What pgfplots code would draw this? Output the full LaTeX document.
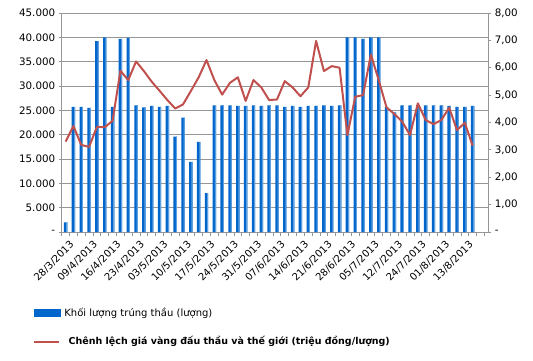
\documentclass[border=0pt]{standalone}
\usepackage{fontspec}
\setmainfont{DejaVu Sans}
\usepackage{pgfplots}
\usepackage{pgfplotstable}
\pgfplotsset{compat=1.18}
\definecolor{barblue}{RGB}{0,102,204}
\definecolor{barlight}{RGB}{95,160,225}
\definecolor{linered}{RGB}{192,80,77}
\definecolor{gridgray}{RGB}{150,150,150}

\pgfplotstableread{
x v p
0 2000 3.30
1 25700 3.87
2 25700 3.18
3 25500 3.11
4 39200 3.84
5 40000 3.83
6 25700 4.06
7 39700 5.89
8 39900 5.55
9 26000 6.23
10 25600 5.88
11 25900 5.49
12 25700 5.16
13 25900 4.82
14 19600 4.51
15 23500 4.66
16 14400 5.15
17 18500 5.65
18 8000 6.28
19 26000 5.55
20 26000 5.02
21 26000 5.45
22 25900 5.65
23 25900 4.79
24 26000 5.55
25 25900 5.28
26 26000 4.82
27 26000 4.84
28 25700 5.51
29 25900 5.28
30 25700 4.96
31 25900 5.28
32 25900 6.98
33 26000 5.88
34 25900 6.06
35 26000 6.00
36 40000 3.54
37 40000 4.94
38 39700 5.00
39 40000 6.48
40 40000 5.55
41 25700 4.55
42 24600 4.31
43 26000 4.03
44 26000 3.54
45 26000 4.70
46 26000 4.09
47 26000 3.94
48 26000 4.09
49 25900 4.54
50 25700 3.72
51 25700 3.99
52 25900 3.15
}\data

\begin{document}
\begin{tikzpicture}
\path[use as bounding box] (-61.7pt,-129pt) rectangle (471.3pt,232pt);
\begin{axis}[
  at={(0,0)}, anchor=south west,
  scale only axis, width=426.6pt, height=219pt,
  xmin=-0.5, xmax=54, ymin=0, ymax=45000,
  axis y line*=left, axis x line*=bottom,
  axis line style={gridgray, line width=0.8pt},
  ymajorgrids, major grid style={gridgray, line width=0.8pt},
  ytick={0,5000,...,45000},
  yticklabels={-\hspace{8pt},5.000,10.000,15.000,20.000,25.000,30.000,35.000,40.000,45.000},
  yticklabel style={font=\fontsize{10.3}{12}\selectfont, text=black},
  tick align=outside,
  ytick style={gridgray, line width=0.8pt},
  major tick length=3pt,
  xtick={0,3,...,51},
  xticklabels={28/3/2013,09/4/2013,16/4/2013,23/4/2013,03/5/2013,10/5/2013,17/5/2013,24/5/2013,31/5/2013,07/6/2013,14/6/2013,21/6/2013,28/6/2013,05/7/2013,12/7/2013,24/7/2013,01/8/2013,13/8/2013},
  major x tick style={draw=none},
  minor xtick={-0.5,0.5,...,53.5},
  minor x tick style={gridgray, line width=0.8pt},
  minor tick length=4pt,
  xticklabel style={rotate=45, anchor=north east, font=\fontsize{10}{12}\selectfont, inner sep=1pt, yshift=-5pt},
  scaled y ticks=false,
  legend style={at={(0,0)}, anchor=north west, xshift=-28.7pt, yshift=-73.5pt,
    draw=none, fill=none, inner sep=0pt, row sep=15pt, column sep=1pt,
    font=\fontsize{10}{12}\selectfont},
  legend cell align=left,
]
\addplot[ybar, bar width=3.4pt, bar shift=0pt, draw=none, fill=barblue,
  legend image code/.code={\path[fill=barblue] (0pt,-4pt) rectangle (27pt,4pt);}]
  table[x=x,y=v]{\data};
\addlegendentry{Khối lượng trúng thầu (lượng)}
\addplot[ybar, bar width=1.1pt, bar shift=1.15pt, draw=none, fill=barlight, forget plot]
  table[x=x,y=v]{\data};
\addlegendimage{legend image code/.code={\draw[linered, line width=2pt] (0pt,0pt) -- (25pt,0pt); \path (27pt,0pt);}}
\addlegendentry{\hspace{4.3pt}\fontsize{9.5}{12}\selectfont\textbf{Chênh lệch giá vàng đấu thầu và thế giới (triệu đồng/lượng)}}
\end{axis}
\begin{axis}[
  at={(0,0)}, anchor=south west,
  scale only axis, width=426.6pt, height=219pt,
  xmin=-0.5, xmax=54, ymin=0, ymax=8,
  axis y line*=right, axis x line=none,
  axis line style={gridgray, line width=0.8pt},
  ytick={0,1,...,8},
  yticklabels={-,{1,00},{2,00},{3,00},{4,00},{5,00},{6,00},{7,00},{8,00}},
  yticklabel style={font=\fontsize{10.3}{12}\selectfont, text=black, anchor=west},
  tick align=outside,
  ytick style={gridgray, line width=0.8pt},
  major tick length=3pt,
]
\addplot[linered, line width=2pt, line join=round] table[x=x,y=p]{\data};
\end{axis}
\end{tikzpicture}
\end{document}
